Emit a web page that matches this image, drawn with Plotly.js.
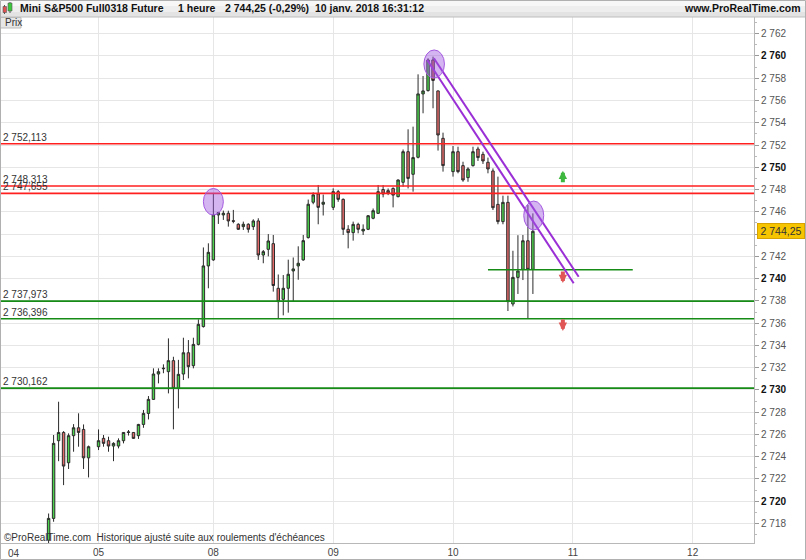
<!DOCTYPE html>
<html><head><meta charset="utf-8">
<script src="https://cdn.plot.ly/plotly-3.0.1.min.js"></script>
<style>html,body{margin:0;padding:0;background:#fff}#chart{width:806px;height:560px}</style>
</head><body><div id="chart"></div>
<script>
// ---------- data ----------
const times = [
 "2018-01-04 14:00","2018-01-04 15:00","2018-01-04 16:00","2018-01-04 17:00","2018-01-04 18:00","2018-01-04 19:00","2018-01-04 20:00","2018-01-04 21:00","2018-01-04 22:00",
 "2018-01-05 00:00","2018-01-05 01:00","2018-01-05 02:00","2018-01-05 03:00","2018-01-05 04:00","2018-01-05 05:00","2018-01-05 06:00","2018-01-05 07:00","2018-01-05 08:00","2018-01-05 09:00","2018-01-05 10:00","2018-01-05 11:00","2018-01-05 12:00","2018-01-05 13:00","2018-01-05 14:00","2018-01-05 15:00","2018-01-05 16:00","2018-01-05 17:00","2018-01-05 18:00","2018-01-05 19:00","2018-01-05 20:00","2018-01-05 21:00","2018-01-05 22:00",
 "2018-01-08 00:00","2018-01-08 01:00","2018-01-08 02:00","2018-01-08 03:00","2018-01-08 04:00","2018-01-08 05:00","2018-01-08 06:00","2018-01-08 07:00","2018-01-08 08:00","2018-01-08 09:00","2018-01-08 10:00","2018-01-08 11:00","2018-01-08 12:00","2018-01-08 13:00","2018-01-08 14:00","2018-01-08 15:00","2018-01-08 16:00","2018-01-08 17:00","2018-01-08 18:00","2018-01-08 19:00","2018-01-08 20:00","2018-01-08 21:00","2018-01-08 22:00",
 "2018-01-09 00:00","2018-01-09 01:00","2018-01-09 02:00","2018-01-09 03:00","2018-01-09 04:00","2018-01-09 05:00","2018-01-09 06:00","2018-01-09 07:00","2018-01-09 08:00","2018-01-09 09:00","2018-01-09 10:00","2018-01-09 11:00","2018-01-09 12:00","2018-01-09 13:00","2018-01-09 14:00","2018-01-09 15:00","2018-01-09 16:00","2018-01-09 17:00","2018-01-09 18:00","2018-01-09 19:00","2018-01-09 20:00","2018-01-09 21:00","2018-01-09 22:00",
 "2018-01-10 00:00","2018-01-10 01:00","2018-01-10 02:00","2018-01-10 03:00","2018-01-10 04:00","2018-01-10 05:00","2018-01-10 06:00","2018-01-10 07:00","2018-01-10 08:00","2018-01-10 09:00","2018-01-10 10:00","2018-01-10 11:00","2018-01-10 12:00","2018-01-10 13:00","2018-01-10 14:00","2018-01-10 15:00","2018-01-10 16:00"
];
const openP = [
 2716.5,2718.46,2725.44,2726.18,2723.46,2725.89,2726.6,2726.45,2723.9,
 2724.9,2725.65,2725.44,2724.96,2724.96,2725.44,2726.18,2726.18,2725.89,2726.9,2727.89,2729.15,2731.43,2731.9,2731.64,2732.63,2730.14,2731.43,2733.34,2732.18,2734.09,2735.69,2741.14,
 2741.68,2745.72,2745.72,2745.87,2745.2,2744.88,2744.67,2744.88,2744.67,2745.18,2742.12,2742.63,2743.14,2739.13,2738.14,2739.13,2740.69,2741.14,2741.68,2743.68,2746.86,2747.6,2746.68,
 2746.4,2747.81,2747.12,2744.43,2744.13,2744.87,2744.28,2744.43,2745.42,2745.86,2748.0,2747.9,2748.1,2747.36,2748.65,2751.4,2749.37,2750.9,2756.59,2756.89,2759.64,2756.86,2752.6,
 2749.61,2751.4,2750.15,2749.07,2750.15,2751.64,2751.16,2750.45,2749.67,2746.67,2745.12,2746.85,2737.72,2740.11,2740.83,2743.4,2740.83
];
const highP = [
 2718.9,2725.95,2728.94,2726.3,2726.1,2726.93,2727.9,2726.9,2725.0,
 2726.45,2725.95,2725.8,2725.3,2725.65,2726.2,2726.4,2726.2,2726.95,2728.2,2729.45,2731.94,2731.94,2732.3,2734.63,2732.98,2732.7,2734.69,2734.48,2734.69,2736.34,2742.8,2743.17,
 2747.6,2746.0,2746.11,2746.1,2746.17,2744.97,2745.12,2744.97,2745.33,2745.42,2742.57,2744.0,2743.92,2740.37,2740.32,2741.7,2741.9,2742.9,2743.92,2747.1,2747.75,2748.41,2747.55,
 2748.11,2747.96,2747.2,2744.8,2745.12,2745.02,2744.87,2745.71,2746.3,2748.41,2748.4,2748.1,2748.2,2748.9,2751.6,2753.41,2753.65,2758.35,2758.2,2759.79,2759.94,2756.9,2753.11,
 2751.91,2751.85,2750.5,2750.0,2751.85,2751.85,2751.4,2750.87,2749.9,2749.16,2747.45,2747.45,2742.5,2743.9,2743.92,2746.61,2745.86
];
const lowP = [
 2716.0,2718.16,2723.6,2721.45,2722.9,2724.45,2724.9,2722.9,2722.14,
 2724.6,2724.9,2724.45,2723.6,2724.75,2725.2,2725.9,2725.6,2725.6,2726.6,2727.35,2729.1,2730.59,2731.5,2729.69,2726.46,2728.34,2730.89,2731.04,2731.94,2734.0,2735.6,2739.13,
 2741.6,2744.91,2745.27,2744.67,2744.97,2744.37,2744.37,2744.13,2744.37,2741.68,2741.38,2742.0,2738.83,2736.4,2736.7,2736.94,2737.93,2739.9,2741.6,2743.6,2746.68,2744.88,2745.67,
 2746.16,2746.9,2743.92,2742.72,2743.41,2744.07,2743.92,2744.36,2745.33,2745.8,2747.3,2747.5,2746.4,2747.3,2748.26,2748.1,2747.81,2750.8,2754.85,2756.8,2755.3,2751.5,2749.61,
 2749.16,2749.46,2748.7,2748.7,2750.06,2750.57,2750.3,2749.46,2746.16,2744.88,2744.88,2737.09,2737.5,2738.62,2739.87,2736.37,2738.62
];
const closeP = [
 2718.46,2725.2,2726.18,2723.16,2725.89,2726.6,2726.18,2723.9,2724.9,
 2725.44,2725.2,2724.96,2725.2,2725.44,2726.18,2726.22,2725.65,2726.9,2727.89,2729.15,2731.43,2731.64,2731.94,2732.63,2730.14,2731.4,2733.34,2732.09,2734.09,2735.89,2741.14,2742.36,
 2745.72,2745.93,2745.87,2745.18,2745.15,2744.43,2744.88,2744.43,2745.18,2742.12,2742.42,2743.38,2739.38,2737.93,2739.13,2740.39,2740.87,2741.38,2743.41,2746.68,2747.52,2746.4,2746.86,
 2747.81,2747.12,2744.43,2744.13,2744.87,2744.43,2744.43,2745.65,2746.1,2747.81,2747.6,2747.7,2747.5,2748.86,2751.4,2749.0,2750.87,2756.59,2756.86,2759.64,2757.8,2752.9,2750.15,
 2751.4,2749.61,2748.86,2749.85,2751.4,2750.87,2750.57,2749.85,2746.37,2745.12,2746.85,2737.93,2740.11,2740.68,2743.4,2740.83,2744.25
];
const dayTicks  = ["2018-01-05","2018-01-08","2018-01-09","2018-01-10","2018-01-11","2018-01-12"];
const dayLabels = ["05","08","09","10","11","12"];
const firstDayLabel = "04";
const redLevels   = [2752.113, 2748.313, 2747.655];
const greenLevels = [2737.973, 2736.396, 2730.162];
const lastPrice = 2744.25;
const shortLevel = {price: 2740.8, from: "2018-01-10 07:00", to: "2018-01-11 12:00"};
const trendA = {t: ["2018-01-09 18:50","2018-01-11 00:10"], p: [2759.64, 2739.58]};
const trendB = {t: ["2018-01-09 20:10","2018-01-11 01:10"], p: [2759.79, 2740.17]};
const ellipses = [
  {t: ["2018-01-05 21:00","2018-01-08 02:00"], p: [2745.71, 2748.1]},
  {t: ["2018-01-09 18:10","2018-01-09 22:17"], p: [2758.02, 2760.54]},
  {t: ["2018-01-10 14:10","2018-01-10 18:10"], p: [2744.37, 2746.97]}
];
const arrowsUp   = {t: ["2018-01-10 22:00"], p: [2749.7]};
const arrowsDown = {t: ["2018-01-10 22:00","2018-01-10 22:00"], p: [2739.6, 2735.3]};
const headerTexts = ["Mini S&P500 Full0318 Future", "1 heure", "2 744,25 (-0,29%)", "10 janv. 2018 16:31:12"];
const siteText = "www.ProRealTime.com";
const footText = "\u00A9ProRealTime.com  Historique ajust\u00e9 suite aux roulements d'\u00e9ch\u00e9ances";

// ---------- helpers ----------
const W = 806, H = 560, M = {l: 1, r: 52, t: 17, b: 17};
const PW = W - M.l - M.r, PH = H - M.t - M.b;
const px = x => (x - M.l) / PW;
const py = y => 1 - (y - M.t) / PH;
const FONT = "Liberation Sans, Arial, sans-serif";
function fmt(v, dec) {
  const s = v.toFixed(dec);
  const [ip, dp] = s.split(".");
  const g = ip.replace(/\B(?=(\d{3})+(?!\d))/g, " ");
  return dp ? g + "," + dp : g;
}

const yRange = [2716.25, 2763.5];
const yTicks = [], yLabels = [];
for (let v = 2718; v <= 2762; v += 2) {
  yTicks.push(v);
  // the label under the last-price tag is hidden in the original
  if (Math.abs(v - lastPrice) < 1) { yLabels.push(""); continue; }
  yLabels.push(v % 10 === 0 ? '<b><span style="color:#111">' + fmt(v, 0) + '</span></b>' : fmt(v, 0));
}

const trace = {
  type: "candlestick", x: times, open: openP, high: highP, low: lowP, close: closeP,
  increasing: {line: {color: "#2b2b2b", width: 1}, fillcolor: "#4cd24c"},
  decreasing: {line: {color: "#2b2b2b", width: 1}, fillcolor: "#e46a6a"},
  whiskerwidth: 0, hoverinfo: "skip", showlegend: false
};

const shapes = [];
const annotations = [];
// header bar
[["#f7f7f7", 0, 6], ["#eeeeee", 6, 12], ["#e3e3e3", 12, 17]].forEach(b => {
  shapes.push({type: "rect", xref: "paper", yref: "paper", x0: px(0), x1: px(W), y0: py(b[2]), y1: py(b[1]), fillcolor: b[0], line: {width: 0}, layer: "below"});
});
shapes.push({type: "line", xref: "paper", yref: "paper", x0: px(0), x1: px(W), y0: py(17), y1: py(17), line: {color: "#bdbdbd", width: 1}});
// icon
shapes.push({type: "line", xref: "paper", yref: "paper", x0: px(4.5), x1: px(4.5), y0: py(14), y1: py(5), line: {color: "#555", width: 1}});
shapes.push({type: "rect", xref: "paper", yref: "paper", x0: px(3), x1: px(6.5), y0: py(12.5), y1: py(6.5), fillcolor: "#e05050", line: {color: "#555", width: 0.6}});
shapes.push({type: "line", xref: "paper", yref: "paper", x0: px(10), x1: px(10), y0: py(13), y1: py(2), line: {color: "#555", width: 1}});
shapes.push({type: "rect", xref: "paper", yref: "paper", x0: px(8), x1: px(12), y0: py(11), y1: py(3), fillcolor: "#3cc83c", line: {color: "#555", width: 0.6}});
// Prix box
shapes.push({type: "rect", xref: "paper", yref: "paper", x0: px(0.5), x1: px(21), y0: py(28), y1: py(17.5), fillcolor: "#e6e6e6", line: {color: "#bbb", width: 1}});
// outer frame
shapes.push({type: "rect", xref: "paper", yref: "paper", x0: px(0.5), x1: px(805.5), y0: py(559.5), y1: py(0.5), line: {color: "#b0b0b0", width: 1}});

// level lines
redLevels.forEach(v => {
  shapes.push({type: "line", xref: "paper", yref: "y", x0: 0, x1: 1, y0: v, y1: v, line: {color: "#ff1f1f", width: 1.6}});
  annotations.push({xref: "paper", yref: "y", x: px(2), y: v, xanchor: "left", yanchor: "bottom", text: fmt(v, 3), showarrow: false, font: {family: FONT, size: 10, color: "#333"}, borderpad: 0, yshift: 0});
});
greenLevels.forEach(v => {
  shapes.push({type: "line", xref: "paper", yref: "y", x0: 0, x1: 1, y0: v, y1: v, line: {color: "#168c16", width: 1.6}});
  annotations.push({xref: "paper", yref: "y", x: px(2), y: v, xanchor: "left", yanchor: "bottom", text: fmt(v, 3), showarrow: false, font: {family: FONT, size: 10, color: "#333"}, borderpad: 0, yshift: 0});
});
shapes.push({type: "line", xref: "x", yref: "y", x0: shortLevel.from, x1: shortLevel.to, y0: shortLevel.price, y1: shortLevel.price, line: {color: "#168c16", width: 1.6}});
// trend lines
[trendA, trendB].forEach(tl => {
  shapes.push({type: "line", xref: "x", yref: "y", x0: tl.t[0], x1: tl.t[1], y0: tl.p[0], y1: tl.p[1], line: {color: "#9a2fd6", width: 2}});
});
// ellipses
ellipses.forEach(e => {
  shapes.push({type: "circle", xref: "x", yref: "y", x0: e.t[0], x1: e.t[1], y0: e.p[0], y1: e.p[1], fillcolor: "rgba(160,90,225,0.45)", line: {color: "#a55be0", width: 1}});
});
// arrows (block arrows: thick stem + head)
arrowsUp.t.forEach((t, i) => annotations.push({x: t, y: arrowsUp.p[i], xref: "x", yref: "y", text: "", showarrow: true, ax: 0, ay: 13, arrowhead: 2, arrowsize: 0.42, arrowwidth: 4, arrowcolor: "#3fb83f", standoff: 0}));
arrowsDown.t.forEach((t, i) => annotations.push({x: t, y: arrowsDown.p[i], xref: "x", yref: "y", text: "", showarrow: true, ax: 0, ay: -13, arrowhead: 2, arrowsize: 0.42, arrowwidth: 4, arrowcolor: "#e05555", standoff: 0}));

// header texts
const hx = [18, 176, 223, 313];
headerTexts.forEach((t, i) => annotations.push({xref: "paper", yref: "paper", x: px(hx[i]), y: py(8.5), xanchor: "left", yanchor: "middle", text: "<b>" + t.replace(/&/g, "&amp;") + "</b>", showarrow: false, font: {family: FONT, size: 10.5, color: "#111"}}));
annotations.push({xref: "paper", yref: "paper", x: px(803), y: py(8.5), xanchor: "right", yanchor: "middle", text: "<b>" + siteText + "</b>", showarrow: false, font: {family: FONT, size: 10.5, color: "#111"}});
annotations.push({xref: "paper", yref: "paper", x: px(2.5), y: py(22.5), xanchor: "left", yanchor: "middle", text: "Prix", showarrow: false, font: {family: FONT, size: 10, color: "#333"}});
annotations.push({xref: "paper", yref: "paper", x: px(2), y: py(537), xanchor: "left", yanchor: "middle", text: footText, showarrow: false, font: {family: "Liberation Sans Narrow, " + FONT, size: 10, color: "#333"}});
annotations.push({xref: "paper", yref: "paper", x: px(14), y: py(553), xanchor: "center", yanchor: "middle", text: firstDayLabel, showarrow: false, font: {family: FONT, size: 10, color: "#444"}});
// last price tag
annotations.push({xref: "paper", yref: "y", x: px(757), y: lastPrice, xanchor: "left", yanchor: "middle", text: fmt(lastPrice, 2), showarrow: false, bgcolor: "#f7c500", bordercolor: "#d8a300", borderwidth: 1, borderpad: 1, width: 44, font: {family: FONT, size: 10.5, color: "#333"}});

const layout = {
  width: W, height: H, margin: M, paper_bgcolor: "#fff", plot_bgcolor: "#fff",
  showlegend: false, hovermode: false, dragmode: false,
  xaxis: {
    type: "date", range: ["2018-01-04 04:28", "2018-01-12 12:17"],
    rangebreaks: [{values: ["2018-01-05 23:00:00"], dvalue: 49 * 3600000}],
    rangeslider: {visible: false},
    tickmode: "array", tickvals: dayTicks, ticktext: dayLabels,
    showgrid: true, gridcolor: "#e6e6e6", gridwidth: 1,
    showline: true, linecolor: "#b8b8b8", mirror: false, ticks: "", zeroline: false,
    tickfont: {family: FONT, size: 10, color: "#444"}, fixedrange: true
  },
  yaxis: {
    side: "right", range: yRange, tickmode: "array", tickvals: yTicks, ticktext: yLabels,
    showgrid: true, gridcolor: "#e6e6e6", gridwidth: 1,
    showline: true, linecolor: "#b8b8b8", ticks: "outside", ticklen: 4, tickcolor: "#999",
    minor: {tickmode: "linear", tick0: 2717, dtick: 2, ticks: "outside", ticklen: 2, tickcolor: "#bbb", showgrid: false},
    zeroline: false, tickfont: {family: FONT, size: 10, color: "#555"}, fixedrange: true
  },
  shapes: shapes, annotations: annotations
};

Plotly.newPlot("chart", [trace], layout, {staticPlot: true, displayModeBar: false});
</script>
</body></html>
